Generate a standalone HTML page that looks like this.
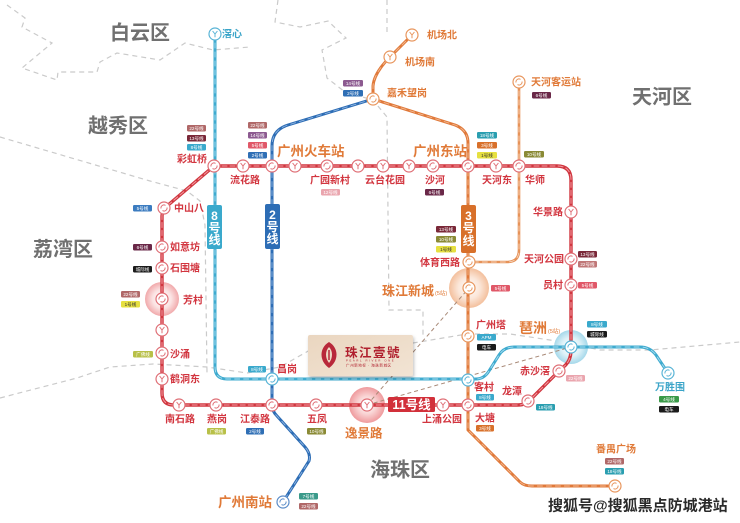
<!DOCTYPE html>
<html><head><meta charset="utf-8"><style>
html,body{margin:0;padding:0;background:#fff;}
svg{display:block}
text{font-family:"Liberation Sans","Noto Sans CJK SC",sans-serif}
.sr{fill:#d2353f;font-size:10px;font-weight:bold}
.so{fill:#e07a38;font-size:10px;font-weight:bold}
.sc{fill:#3aa4c8;font-size:10px;font-weight:bold}
.bg{font-size:13.5px}
.dist{fill:#707070;font-size:20px;font-weight:bold}
.bt{fill:#fff;font-size:4.6px;text-anchor:middle}
.ic circle{fill:#fff;stroke-width:1.2}
.ic path{fill:none;stroke-width:1}
.r circle,.r path{stroke:#df6f76}
.o circle,.o path{stroke:#e8965e}
.c circle,.c path{stroke:#59b4d6}
.b circle,.b path{stroke:#5a8cc8}
.vt{fill:#fff;font-size:12px;font-weight:bold;text-anchor:middle}
</style></head><body>
<svg width="740" height="523" viewBox="0 0 740 523" xmlns="http://www.w3.org/2000/svg">
<defs>
<radialGradient id="hp"><stop offset="0" stop-color="#fff"/><stop offset="0.55" stop-color="#fbe3e3"/><stop offset="1" stop-color="#f1a9ab"/></radialGradient>
<radialGradient id="hp2"><stop offset="0" stop-color="#fff"/><stop offset="0.5" stop-color="#f9d4d4"/><stop offset="1" stop-color="#ef9a9d"/></radialGradient>
<radialGradient id="ho"><stop offset="0" stop-color="#fff"/><stop offset="0.55" stop-color="#fbe6d8"/><stop offset="1" stop-color="#f3bf9c"/></radialGradient>
<radialGradient id="hc"><stop offset="0" stop-color="#fff"/><stop offset="0.55" stop-color="#dff2f8"/><stop offset="1" stop-color="#a5d8ea"/></radialGradient>
<linearGradient id="bx" x1="0" y1="0" x2="1" y2="1"><stop offset="0" stop-color="#ead6c0"/><stop offset="1" stop-color="#f2e4d4"/></linearGradient>
<filter id="sh" x="-10%" y="-20%" width="130%" height="150%"><feDropShadow dx="1" dy="2" stdDeviation="1.5" flood-color="#000" flood-opacity="0.25"/></filter>
</defs>

<!-- district boundaries -->
<g fill="none" stroke="#cacaca" stroke-width="1.2" stroke-dasharray="5 4">
<path d="M7,5 L25,18 L22,27 L52,43 L22,68 L57,80 L58,72 L97,72 L100,62 L117,53 L160,60 L185,43 L213,50 L250,47"/>
<path d="M278,0 L275,22 L300,27 L328,21 L346,38 L322,50 L327,78 L345,92 L373,100 L387,117 L389,310 L423,310 L423,338"/>
<path d="M387,0 L387,35"/>
<path d="M0,137 L150,181 L187,191 L200,201 L205,225 L207,373"/>
<path d="M0,398 L77,378 L110,367 L153,364 L207,367 L247,373 L280,367 L310,350 L413,343 L467,334 L510,334 L563,342 L600,350 L650,350 L740,342"/>
</g>

<!-- halos -->
<circle cx="162" cy="299" r="17" fill="url(#hp)"/>
<circle cx="367" cy="405" r="18" fill="url(#hp2)"/>
<circle cx="469" cy="288" r="20" fill="url(#ho)"/>
<circle cx="571" cy="347" r="17" fill="url(#hc)"/>

<!-- brown dashed pointers -->
<g fill="none" stroke="#a98a78" stroke-width="1" stroke-dasharray="4 3">
<path d="M367,405 L469,288"/>
<path d="M367,405 L571,347"/>
</g>

<!-- lines -->
<g fill="none" stroke-linejoin="round" stroke-linecap="round">
<path d="M519,82 L519,250 Q519,262 507,262 L469,262" stroke="#e69258" stroke-width="2.6"/>
<path d="M519,82 L519,250 Q519,262 507,262 L469,262" stroke="#f6d2b8" stroke-width="0.9" stroke-dasharray="5 4"/>
<path d="M412,35 L390,57 Q374,73 373,86 L373,99 L455,125 Q468,130 468,143 L468,430 L520,482 Q524,486 532,486 L615,486" stroke="#e0793a" stroke-width="3"/>
<path d="M412,35 L390,57 Q374,73 373,86 L373,99 L455,125 Q468,130 468,143 L468,430 L520,482 Q524,486 532,486 L615,486" stroke="#f2b890" stroke-width="0.9" stroke-dasharray="5 4"/>
<path d="M373,99 L288,125 Q272,130 272,146 L272,405 Q272,411 277,416 L305,447 Q311,454 309,461 L283,502" stroke="#2d6db5" stroke-width="3"/>
<path d="M373,99 L288,125 Q272,130 272,146 L272,405 Q272,411 277,416 L305,447 Q311,454 309,461 L283,502" stroke="#8fb4e0" stroke-width="0.9" stroke-dasharray="5 4"/>
<path d="M215,34 L215,367 Q215,379 227,379 L476,379 Q484,379 489,371 L499,355 Q504,347 514,347 L640,347 Q650,347 656,355 L668,373" stroke="#3fabcf" stroke-width="3"/>
<path d="M215,34 L215,367 Q215,379 227,379 L476,379 Q484,379 489,371 L499,355 Q504,347 514,347 L640,347 Q650,347 656,355 L668,373" stroke="#a9dcef" stroke-width="0.9" stroke-dasharray="5 4"/>
<path d="M214,166 L557,166 Q571,166 571,180 L571,350 Q571,362 562,368 L531,399 Q526,405 518,405 L174,405 Q162,405 162,393 L162,216 Q162,211 167,206 Z" stroke="#d0363f" stroke-width="3.4"/>
<path d="M214,166 L557,166 Q571,166 571,180 L571,350 Q571,362 562,368 L531,399 Q526,405 518,405 L174,405 Q162,405 162,393 L162,216 Q162,211 167,206 Z" stroke="#f29aa0" stroke-width="1" stroke-dasharray="5 3"/>
</g>

<!-- line labels -->
<rect x="207" y="205" width="15" height="44" rx="2" fill="#3aa9cc"/>
<text class="vt" x="214.5" y="220">8</text><text class="vt" x="214.5" y="232">号</text><text class="vt" x="214.5" y="244">线</text>
<rect x="265" y="204" width="15" height="45" rx="2" fill="#2d6db5"/>
<text class="vt" x="272.5" y="219">2</text><text class="vt" x="272.5" y="231">号</text><text class="vt" x="272.5" y="243">线</text>
<rect x="461" y="205" width="15" height="48" rx="2" fill="#d8702a"/>
<text class="vt" x="468.5" y="220">3</text><text class="vt" x="468.5" y="232">号</text><text class="vt" x="468.5" y="245">线</text>
<rect x="388" y="397" width="47" height="15" rx="1.5" fill="#d2303a"/>
<text x="411.5" y="409" fill="#fff" font-size="12.5" font-weight="bold" text-anchor="middle">11号线</text>

<!-- station icons -->
<g class="ic c" transform="translate(215,34)"><circle r="6"/><path d="M-2.4,-3L0,0L2.4,-3M0,0V3.2"/></g>
<g class="ic o" transform="translate(412,35)"><circle r="6"/><path d="M-2.4,-3L0,0L2.4,-3M0,0V3.2"/></g>
<g class="ic o" transform="translate(390,57)"><circle r="6"/><path d="M-2.4,-3L0,0L2.4,-3M0,0V3.2"/></g>
<g class="ic o" transform="translate(373,99)"><circle r="6"/><path d="M-3,0.5A3,3 0 0 1 1.5,-2.6M3,-0.5A3,3 0 0 1 -1.5,2.6"/></g>
<g class="ic o" transform="translate(519,82)"><circle r="6"/><path d="M-3,0.5A3,3 0 0 1 1.5,-2.6M3,-0.5A3,3 0 0 1 -1.5,2.6"/></g>
<g class="ic r" transform="translate(214,166)"><circle r="6"/><path d="M-3,0.5A3,3 0 0 1 1.5,-2.6M3,-0.5A3,3 0 0 1 -1.5,2.6"/></g>
<g class="ic r" transform="translate(243,166)"><circle r="6"/><path d="M-2.4,-3L0,0L2.4,-3M0,0V3.2"/></g>
<g class="ic r" transform="translate(272,166)"><circle r="6"/><path d="M-3,0.5A3,3 0 0 1 1.5,-2.6M3,-0.5A3,3 0 0 1 -1.5,2.6"/></g>
<g class="ic r" transform="translate(295,166)"><circle r="6"/><path d="M-2.4,-3L0,0L2.4,-3M0,0V3.2"/></g>
<g class="ic r" transform="translate(327,166)"><circle r="6"/><path d="M-3,0.5A3,3 0 0 1 1.5,-2.6M3,-0.5A3,3 0 0 1 -1.5,2.6"/></g>
<g class="ic r" transform="translate(358,166)"><circle r="6"/><path d="M-2.4,-3L0,0L2.4,-3M0,0V3.2"/></g>
<g class="ic r" transform="translate(383,166)"><circle r="6"/><path d="M-2.4,-3L0,0L2.4,-3M0,0V3.2"/></g>
<g class="ic r" transform="translate(409,166)"><circle r="6"/><path d="M-2.4,-3L0,0L2.4,-3M0,0V3.2"/></g>
<g class="ic r" transform="translate(433,166)"><circle r="6"/><path d="M-3,0.5A3,3 0 0 1 1.5,-2.6M3,-0.5A3,3 0 0 1 -1.5,2.6"/></g>
<g class="ic r" transform="translate(468,166)"><circle r="6"/><path d="M-3,0.5A3,3 0 0 1 1.5,-2.6M3,-0.5A3,3 0 0 1 -1.5,2.6"/></g>
<g class="ic r" transform="translate(496,166)"><circle r="6"/><path d="M-2.4,-3L0,0L2.4,-3M0,0V3.2"/></g>
<g class="ic r" transform="translate(519,166)"><circle r="6"/><path d="M-3,0.5A3,3 0 0 1 1.5,-2.6M3,-0.5A3,3 0 0 1 -1.5,2.6"/></g>
<g class="ic r" transform="translate(571,212)"><circle r="6"/><path d="M-2.4,-3L0,0L2.4,-3M0,0V3.2"/></g>
<g class="ic r" transform="translate(571,259)"><circle r="6"/><path d="M-3,0.5A3,3 0 0 1 1.5,-2.6M3,-0.5A3,3 0 0 1 -1.5,2.6"/></g>
<g class="ic r" transform="translate(571,285)"><circle r="6"/><path d="M-3,0.5A3,3 0 0 1 1.5,-2.6M3,-0.5A3,3 0 0 1 -1.5,2.6"/></g>
<g class="ic c" transform="translate(571,347)"><circle r="6"/><path d="M-3,0.5A3,3 0 0 1 1.5,-2.6M3,-0.5A3,3 0 0 1 -1.5,2.6"/></g>
<g class="ic r" transform="translate(559,371)"><circle r="6"/><path d="M-3,0.5A3,3 0 0 1 1.5,-2.6M3,-0.5A3,3 0 0 1 -1.5,2.6"/></g>
<g class="ic r" transform="translate(528,401)"><circle r="6"/><path d="M-3,0.5A3,3 0 0 1 1.5,-2.6M3,-0.5A3,3 0 0 1 -1.5,2.6"/></g>
<g class="ic c" transform="translate(668,373)"><circle r="6"/><path d="M-3,0.5A3,3 0 0 1 1.5,-2.6M3,-0.5A3,3 0 0 1 -1.5,2.6"/></g>
<g class="ic o" transform="translate(615,486)"><circle r="6"/><path d="M-3,0.5A3,3 0 0 1 1.5,-2.6M3,-0.5A3,3 0 0 1 -1.5,2.6"/></g>
<g class="ic c" transform="translate(468,380)"><circle r="6"/><path d="M-3,0.5A3,3 0 0 1 1.5,-2.6M3,-0.5A3,3 0 0 1 -1.5,2.6"/></g>
<g class="ic r" transform="translate(468,405)"><circle r="6"/><path d="M-3,0.5A3,3 0 0 1 1.5,-2.6M3,-0.5A3,3 0 0 1 -1.5,2.6"/></g>
<g class="ic r" transform="translate(443,405)"><circle r="6"/><path d="M-2.4,-3L0,0L2.4,-3M0,0V3.2"/></g>
<g class="ic r" transform="translate(367,405)"><circle r="6"/><path d="M-2.4,-3L0,0L2.4,-3M0,0V3.2"/></g>
<g class="ic r" transform="translate(316,405)"><circle r="6"/><path d="M-3,0.5A3,3 0 0 1 1.5,-2.6M3,-0.5A3,3 0 0 1 -1.5,2.6"/></g>
<g class="ic r" transform="translate(272,405)"><circle r="6"/><path d="M-3,0.5A3,3 0 0 1 1.5,-2.6M3,-0.5A3,3 0 0 1 -1.5,2.6"/></g>
<g class="ic r" transform="translate(216,405)"><circle r="6"/><path d="M-3,0.5A3,3 0 0 1 1.5,-2.6M3,-0.5A3,3 0 0 1 -1.5,2.6"/></g>
<g class="ic r" transform="translate(179,405)"><circle r="6"/><path d="M-2.4,-3L0,0L2.4,-3M0,0V3.2"/></g>
<g class="ic c" transform="translate(272,379)"><circle r="6"/><path d="M-3,0.5A3,3 0 0 1 1.5,-2.6M3,-0.5A3,3 0 0 1 -1.5,2.6"/></g>
<g class="ic r" transform="translate(162,379)"><circle r="6"/><path d="M-2.4,-3L0,0L2.4,-3M0,0V3.2"/></g>
<g class="ic r" transform="translate(162,353)"><circle r="6"/><path d="M-3,0.5A3,3 0 0 1 1.5,-2.6M3,-0.5A3,3 0 0 1 -1.5,2.6"/></g>
<g class="ic r" transform="translate(162,330)"><circle r="6"/><path d="M-2.4,-3L0,0L2.4,-3M0,0V3.2"/></g>
<g class="ic r" transform="translate(162,299)"><circle r="6"/><path d="M-3,0.5A3,3 0 0 1 1.5,-2.6M3,-0.5A3,3 0 0 1 -1.5,2.6"/></g>
<g class="ic r" transform="translate(162,268)"><circle r="6"/><path d="M-3,0.5A3,3 0 0 1 1.5,-2.6M3,-0.5A3,3 0 0 1 -1.5,2.6"/></g>
<g class="ic r" transform="translate(162,247)"><circle r="6"/><path d="M-3,0.5A3,3 0 0 1 1.5,-2.6M3,-0.5A3,3 0 0 1 -1.5,2.6"/></g>
<g class="ic r" transform="translate(164,208)"><circle r="6"/><path d="M-3,0.5A3,3 0 0 1 1.5,-2.6M3,-0.5A3,3 0 0 1 -1.5,2.6"/></g>
<g class="ic o" transform="translate(469,262)"><circle r="6"/><path d="M-3,0.5A3,3 0 0 1 1.5,-2.6M3,-0.5A3,3 0 0 1 -1.5,2.6"/></g>
<g class="ic o" transform="translate(469,288)"><circle r="6"/><path d="M-3,0.5A3,3 0 0 1 1.5,-2.6M3,-0.5A3,3 0 0 1 -1.5,2.6"/></g>
<g class="ic o" transform="translate(468,336)"><circle r="6"/><path d="M-3,0.5A3,3 0 0 1 1.5,-2.6M3,-0.5A3,3 0 0 1 -1.5,2.6"/></g>
<g class="ic b" transform="translate(283,502)"><circle r="6"/><path d="M-3,0.5A3,3 0 0 1 1.5,-2.6M3,-0.5A3,3 0 0 1 -1.5,2.6"/></g>

<!-- district labels -->
<text class="dist" x="110" y="39.5">白云区</text>
<text class="dist" x="88" y="132.5">越秀区</text>
<text class="dist" x="33" y="256">荔湾区</text>
<text class="dist" x="632" y="103.5">天河区</text>
<text class="dist" x="370" y="476.5">海珠区</text>

<!-- station labels -->
<text class="sc" x="222" y="37.7">滘心</text>
<text class="so" x="427" y="38.6">机场北</text>
<text class="so" x="405" y="65.6">机场南</text>
<text class="so" x="387" y="96.6">嘉禾望岗</text>
<text class="so bg" x="277" y="155.9">广州火车站</text>
<text class="so bg" x="413" y="155.9">广州东站</text>
<text class="so" x="531" y="85.6">天河客运站</text>
<text class="sr" x="177" y="162.6">彩虹桥</text>
<text class="sr" x="230" y="183.6">流花路</text>
<text class="sr" x="310" y="183.6">广园新村</text>
<text class="sr" x="365" y="183.6">云台花园</text>
<text class="sr" x="425" y="183.6">沙河</text>
<text class="sr" x="482" y="183.6">天河东</text>
<text class="sr" x="525" y="183.6">华师</text>
<text class="sr" x="533" y="215.6">华景路</text>
<text class="sr" x="524" y="262.6">天河公园</text>
<text class="sr" x="543" y="288.6">员村</text>
<text class="so" x="519" y="333" style="font-size:14px">琶洲</text>
<text class="so" x="548" y="333" style="font-size:5.5px;font-weight:normal">(5站)</text>
<text class="sr" x="520" y="374.6">赤沙滘</text>
<text class="sr" x="502" y="394.6">龙潭</text>
<text class="sc" x="655" y="390.6">万胜围</text>
<text class="so" x="596" y="452.6">番禺广场</text>
<text class="sr" x="475" y="421.6">大塘</text>
<text class="sr" x="474" y="390.6">客村</text>
<text class="sr" x="422" y="422.6">上涌公园</text>
<text class="so" x="345" y="437.5" style="font-size:12.5px">逸景路</text>
<text class="sr" x="307" y="422.6">五凤</text>
<text class="sr" x="240" y="422.6">江泰路</text>
<text class="sr" x="207" y="422.6">燕岗</text>
<text class="sr" x="165" y="422.6">南石路</text>
<text class="sr" x="277" y="372.6">昌岗</text>
<text class="so bg" x="218" y="506.9">广州南站</text>
<text class="sr" x="170" y="382.6">鹤洞东</text>
<text class="sr" x="170" y="357.6">沙涌</text>
<text class="sr" x="183" y="303.6">芳村</text>
<text class="sr" x="170" y="271.6">石围塘</text>
<text class="sr" x="170" y="250.6">如意坊</text>
<text class="sr" x="174" y="211.6">中山八</text>
<text class="sr" x="420" y="265.8">体育西路</text>
<text class="so" x="382" y="295.7" style="font-size:13px">珠江新城</text>
<text class="so" x="435" y="295" style="font-size:5.5px;font-weight:normal">(5站)</text>
<text class="sr" x="476" y="328.6">广州塔</text>

<!-- badges -->
<g>
<rect x="343" y="80" width="20" height="6.5" rx="1.2" fill="#8c5a90"/><text class="bt" x="353" y="85">14号线</text>
<rect x="343" y="90" width="20" height="6.5" rx="1.2" fill="#2f6fb5"/><text class="bt" x="353" y="95">2号线</text>
<rect x="187" y="125" width="19" height="6.5" rx="1.2" fill="#b06868"/><text class="bt" x="196.5" y="130">22号线</text>
<rect x="187" y="135" width="19" height="6.5" rx="1.2" fill="#7a2838"/><text class="bt" x="196.5" y="140">13号线</text>
<rect x="187" y="144" width="19" height="6.5" rx="1.2" fill="#3aa9cc"/><text class="bt" x="196.5" y="149">8号线</text>
<rect x="248" y="122" width="19" height="6.5" rx="1.2" fill="#b06868"/><text class="bt" x="257.5" y="127">22号线</text>
<rect x="248" y="132" width="19" height="6.5" rx="1.2" fill="#8c5a90"/><text class="bt" x="257.5" y="137">14号线</text>
<rect x="248" y="142" width="19" height="6.5" rx="1.2" fill="#e05868"/><text class="bt" x="257.5" y="147">5号线</text>
<rect x="248" y="152" width="19" height="6.5" rx="1.2" fill="#2f6fb5"/><text class="bt" x="257.5" y="157">2号线</text>
<rect x="321" y="189" width="19" height="6.5" rx="1.2" fill="#eaa5ae"/><text class="bt" x="330.5" y="194">12号线</text>
<rect x="425" y="189" width="19" height="6.5" rx="1.2" fill="#6a2848"/><text class="bt" x="434.5" y="194">6号线</text>
<rect x="477" y="132" width="20" height="6.5" rx="1.2" fill="#2a9eb0"/><text class="bt" x="487" y="137">18号线</text>
<rect x="477" y="142" width="20" height="6.5" rx="1.2" fill="#d8702a"/><text class="bt" x="487" y="147">3号线</text>
<rect x="477" y="152" width="20" height="6.5" rx="1.2" fill="#e6e040"/><text class="bt" x="487" y="157" style="fill:#333">1号线</text>
<rect x="524" y="151" width="20" height="6.5" rx="1.2" fill="#8a8a35"/><text class="bt" x="534" y="156">10号线</text>
<rect x="532" y="92" width="19" height="6.5" rx="1.2" fill="#6a2848"/><text class="bt" x="541.5" y="97">6号线</text>
<rect x="578" y="251" width="19" height="6.5" rx="1.2" fill="#7a2838"/><text class="bt" x="587.5" y="256">13号线</text>
<rect x="578" y="261" width="19" height="6.5" rx="1.2" fill="#c07878"/><text class="bt" x="587.5" y="266">22号线</text>
<rect x="578" y="282" width="19" height="6.5" rx="1.2" fill="#e05868"/><text class="bt" x="587.5" y="287">5号线</text>
<rect x="587" y="321" width="20" height="6.5" rx="1.2" fill="#3aa9cc"/><text class="bt" x="597" y="326">8号线</text>
<rect x="587" y="331" width="20" height="6.5" rx="1.2" fill="#1a1a1a"/><text class="bt" x="597" y="336">城际线</text>
<rect x="566" y="375" width="19" height="6.5" rx="1.2" fill="#eaa5ae"/><text class="bt" x="575.5" y="380">22号线</text>
<rect x="536" y="404" width="19" height="6.5" rx="1.2" fill="#2a9eb0"/><text class="bt" x="545.5" y="409">18号线</text>
<rect x="659" y="396" width="20" height="6.5" rx="1.2" fill="#3a9a48"/><text class="bt" x="669" y="401">4号线</text>
<rect x="659" y="406" width="20" height="6.5" rx="1.2" fill="#1a1a1a"/><text class="bt" x="669" y="411">电车</text>
<rect x="605" y="458" width="19" height="6.5" rx="1.2" fill="#b06868"/><text class="bt" x="614.5" y="463">22号线</text>
<rect x="605" y="468" width="19" height="6.5" rx="1.2" fill="#2a9eb0"/><text class="bt" x="614.5" y="473">18号线</text>
<rect x="476" y="425" width="18" height="6.5" rx="1.2" fill="#d8702a"/><text class="bt" x="485" y="430">3号线</text>
<rect x="476" y="394" width="18" height="6.5" rx="1.2" fill="#3aa9cc"/><text class="bt" x="485" y="399">8号线</text>
<rect x="307" y="428" width="19" height="6.5" rx="1.2" fill="#8a8a35"/><text class="bt" x="316.5" y="433">10号线</text>
<rect x="246" y="428" width="18" height="6.5" rx="1.2" fill="#2f6fb5"/><text class="bt" x="255" y="433">2号线</text>
<rect x="207" y="428" width="19" height="6.5" rx="1.2" fill="#b8c048"/><text class="bt" x="216.5" y="433">广佛线</text>
<rect x="133" y="351" width="20" height="6.5" rx="1.2" fill="#b8c048"/><text class="bt" x="143" y="356">广佛线</text>
<rect x="248" y="366" width="18" height="6.5" rx="1.2" fill="#3aa9cc"/><text class="bt" x="257" y="371">8号线</text>
<rect x="299" y="493" width="19" height="6.5" rx="1.2" fill="#3a9a8a"/><text class="bt" x="308.5" y="498">7号线</text>
<rect x="299" y="503" width="19" height="6.5" rx="1.2" fill="#b06868"/><text class="bt" x="308.5" y="508">22号线</text>
<rect x="121" y="291" width="19" height="6.5" rx="1.2" fill="#b06868"/><text class="bt" x="130.5" y="296">22号线</text>
<rect x="121" y="301" width="19" height="6.5" rx="1.2" fill="#e6e040"/><text class="bt" x="130.5" y="306" style="fill:#333">1号线</text>
<rect x="133" y="266" width="19" height="6.5" rx="1.2" fill="#1a1a1a"/><text class="bt" x="142.5" y="271">城际线</text>
<rect x="133" y="244" width="19" height="6.5" rx="1.2" fill="#6a2848"/><text class="bt" x="142.5" y="249">6号线</text>
<rect x="133" y="205" width="19" height="6.5" rx="1.2" fill="#3c7cc0"/><text class="bt" x="142.5" y="210">5号线</text>
<rect x="436" y="226" width="20" height="6.5" rx="1.2" fill="#7a2838"/><text class="bt" x="446" y="231">13号线</text>
<rect x="436" y="236" width="20" height="6.5" rx="1.2" fill="#8a8a35"/><text class="bt" x="446" y="241">10号线</text>
<rect x="436" y="246" width="20" height="6.5" rx="1.2" fill="#e6e040"/><text class="bt" x="446" y="251" style="fill:#333">1号线</text>
<rect x="491" y="285" width="19" height="6.5" rx="1.2" fill="#e05868"/><text class="bt" x="500.5" y="290">5号线</text>
<rect x="477" y="334" width="19" height="6.5" rx="1.2" fill="#3aa9cc"/><text class="bt" x="486.5" y="339">APM</text>
<rect x="477" y="344" width="19" height="6.5" rx="1.2" fill="#1a1a1a"/><text class="bt" x="486.5" y="349">电车</text>
</g>

<!-- project box -->
<g filter="url(#sh)"><rect x="308" y="335" width="105" height="41" rx="2" fill="url(#bx)"/></g>
<path d="M329,342 C319,348 319,361 329,368 C339,361 339,348 329,342Z" fill="#b8283a"/>
<path d="M329,347 C325,351 325,358 329,363 C333,358 333,351 329,347Z" fill="#ecd9c4"/>
<path d="M329,350 L329,360" stroke="#b8283a" stroke-width="1.5"/>
<text x="345" y="357" fill="#b0202e" font-size="12.5" font-weight="bold" letter-spacing="1.5">珠江壹號</text>
<text x="346" y="361.5" fill="#b0202e" font-size="2.8" letter-spacing="1.6">PEARL RIVER ONE</text>
<text x="346" y="366.5" fill="#b0202e" font-size="3.6" letter-spacing="0.5">广州新地标 · 海珠新城区</text>

<!-- watermark -->
<text x="548" y="510.5" font-size="15" font-weight="bold" fill="#2a2a2a" stroke="#fff" stroke-width="3" paint-order="stroke" stroke-linejoin="round">搜狐号@搜狐黑点防城港站</text>
</svg>
</body></html>
